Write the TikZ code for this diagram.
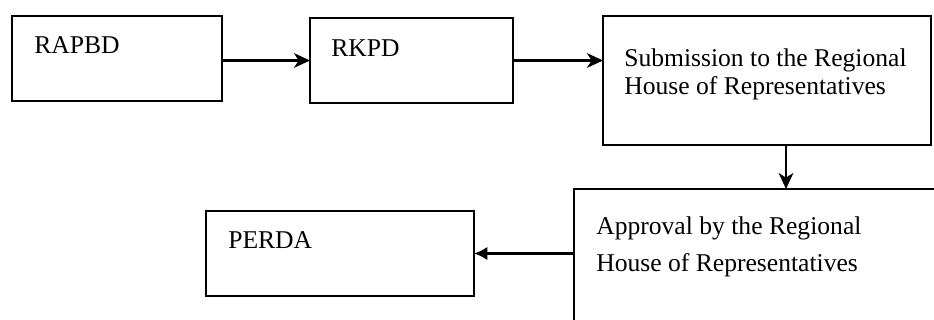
\documentclass[tikz,border=0pt]{standalone}
\usepackage{fontspec}
\setmainfont{Liberation Serif}
\usetikzlibrary{arrows.meta}
\begin{document}
\begin{tikzpicture}[x=0.75pt,y=-0.75pt,
  box/.style={draw,line width=1.7pt,rectangle,anchor=north west,inner sep=0pt,outer sep=0pt},
  lbl/.style={anchor=base west,inner sep=0pt,font=\fontsize{19.2pt}{22pt}\selectfont},
  arr/.style={line width=1.6pt,-{Stealth[length=12pt,width=11pt,inset=3.5pt]}},
  arrb/.style={line width=1.6pt,-{Latex[length=10pt,width=10pt]}}]
\useasboundingbox (0,0) rectangle (934,320);
\clip (0,0) rectangle (934,320);
\node[box,minimum width=157.5pt,minimum height=63.75pt] (rapbd) at (12,16) {};
\node[box,minimum width=152.25pt,minimum height=63.75pt] (rkpd) at (310,18) {};
\node[box,minimum width=246pt,minimum height=96.75pt] (sub) at (603,16) {};
\node[box,minimum width=289.5pt,minimum height=128.25pt] (appr) at (574,189) {};
\node[box,minimum width=201pt,minimum height=63.75pt] (perda) at (206,211) {};
\node[lbl] (t1) at (34,54) {RAPBD};
\node[lbl] (t2) at (331,57) {RKPD};
\node[lbl] (t3a) at (624,67) {Submission to the Regional};
\node[lbl] (t3b) at (624,95) {House of Representatives};
\node[lbl] (t4a) at (596,234) {Approval by the Regional};
\node[lbl] (t4b) at (596,271) {House of Representatives};
\node[lbl] (t5) at (228,248) {PERDA};
\draw[arr] (rapbd.east |- rkpd.west) -- (rkpd.west);
\draw[arr] (rkpd.east) -- (rkpd.east -| sub.west);
\coordinate (dtop) at ([xshift=14.25pt]sub.south);
\draw[arr] (dtop) -- (dtop |- appr.north);
\draw[arrb] (perda.east -| appr.west) -- (perda.east);
\end{tikzpicture}
\end{document}
